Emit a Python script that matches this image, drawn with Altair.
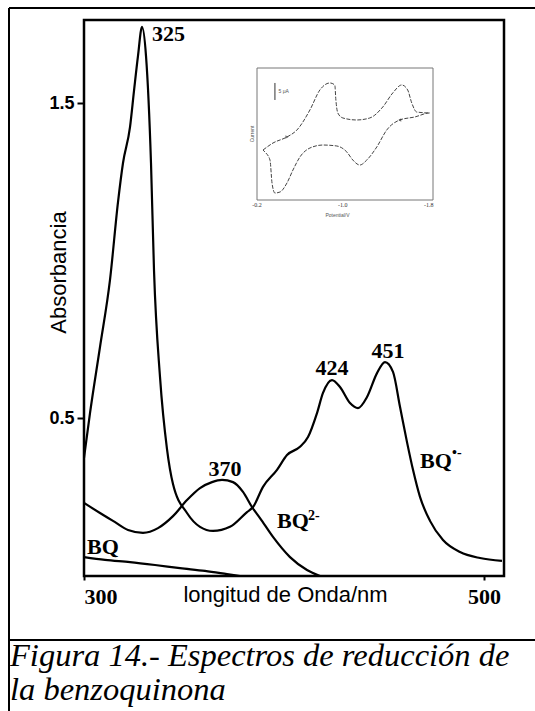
import altair as alt
import pandas as pd

# ---- main spectra (wavelength nm, absorbance) ----
rad_nm = [300, 303, 308, 313, 317, 319.5, 323, 325, 327, 329, 331, 333.5, 335, 338, 341.5, 344.5,
          351.5, 358, 364.5, 373, 381.5, 384.5, 389.5, 396.5, 401.5, 408, 412, 416.5, 419.5, 424,
          428, 433, 437, 441.5, 446.5, 450.5, 454.5, 458, 461.5, 464.5, 468, 473, 479.5, 488, 498, 509]
rad_abs = [0.375, 0.517, 0.727, 0.940, 1.187, 1.311, 1.425, 1.540, 1.651, 1.743, 1.651, 1.311, 0.971,
           0.632, 0.403, 0.292, 0.200, 0.156, 0.143, 0.156, 0.203, 0.219, 0.283, 0.337, 0.384, 0.410,
           0.441, 0.517, 0.581, 0.622, 0.600, 0.549, 0.533, 0.568, 0.644, 0.679, 0.648, 0.537, 0.425,
           0.337, 0.251, 0.175, 0.114, 0.076, 0.057, 0.048]

dian_nm = [300, 308, 314.5, 322, 329.5, 337, 344.5, 351.5, 358, 364, 369, 374.5, 379.5, 384, 388,
           394.5, 403, 411.5, 418]
dian_abs = [0.232, 0.200, 0.175, 0.146, 0.137, 0.152, 0.190, 0.241, 0.279, 0.298, 0.305, 0.298,
            0.267, 0.219, 0.184, 0.124, 0.060, 0.019, 0.0]

bq_nm = [300, 310.5, 323, 335.5, 348, 360.5, 371.5, 378]
bq_abs = [0.060, 0.051, 0.044, 0.035, 0.025, 0.016, 0.006, 0.0]

# peak labels
peak_text = ["325", "370", "424", "451"]
peak_nm = [334, 370.5, 424, 452]
peak_abs = [1.698, 0.317, 0.638, 0.692]
peak_align = ["left", "center", "center", "center"]

# species labels
sp_text = ["BQ", "BQ", "BQ"]
sp_nm = [301.5, 396.5, 468]
sp_abs = [0.070, 0.152, 0.343]
sup_text = ["2-", "•-"]
sup_nm = [412, 484]
sup_abs = [0.178, 0.378]

# ---- inset cyclic voltammogram (potential V, current uA) ----
cv_E = [-0.256, -0.349, -0.479, -0.572, -0.693, -0.786, -0.879, -0.925, -0.935, -0.953, -1.0, -1.130,
        -1.251, -1.372, -1.465, -1.549, -1.604, -1.642, -1.688, -1.809, -1.670, -1.530, -1.409, -1.316,
        -1.223, -1.158, -1.093, -1.037, -0.944, -0.814, -0.693, -0.600, -0.535, -0.479, -0.414, -0.367,
        -0.340, -0.321, -0.274, -0.256]
cv_I = [-4.71, -2.65, -0.88, 1.18, 7.06, 12.94, 15.0, 14.4, 10.0, 6.18, 4.71, 4.12, 4.71, 7.94, 12.06,
        14.41, 12.94, 9.12, 6.47, 6.18, 5.0, 4.12, 1.18, -3.82, -7.65, -9.12, -7.65, -5.29, -3.53, -3.24,
        -4.12, -6.76, -10.59, -14.41, -17.06, -17.35, -14.41, -7.65, -5.29, -4.71]
inset_ticks = [-0.2, -1.0, -1.8]
inset_tick_labels = ["-0.2", "-1.0", "-1.8"]

BLACK = "#000000"

xs = alt.Scale(domain=[300, 510], nice=False, zero=False)
ys = alt.Scale(domain=[0, 1.765], nice=False, zero=False)

def series(nm, ab):
    return pd.DataFrame({"nm": nm, "A": ab, "o": list(range(len(nm)))})

x_axis = alt.Axis(values=[300, 500], labelFont="Liberation Serif", labelFontWeight="bold",
                  labelFontSize=22, labelColor=BLACK, labelPadding=6, tickSize=4, tickWidth=2,
                  tickColor=BLACK, domain=False, grid=False, title="longitud de Onda/nm",
                  titleFont="Liberation Sans", titleFontWeight="normal", titleFontSize=22,
                  titleColor=BLACK, titleX=201, titleY=8, titleBaseline="top", titleAlign="center")
y_axis = alt.Axis(values=[0.5, 1.5], format=".1f", labelFont="Liberation Sans", labelFontWeight="bold",
                  labelFontSize=18, labelColor=BLACK, labelPadding=3, tickSize=7, tickWidth=2,
                  tickColor=BLACK, domain=False, grid=False, title="Absorbancia",
                  titleFont="Liberation Sans", titleFontWeight="normal", titleFontSize=22,
                  titleColor=BLACK, titleX=-26, titleY=252, titleAngle=270, titleAlign="center",
                  titleBaseline="middle")

base_rad = alt.Chart(series(rad_nm, rad_abs)).mark_line(color=BLACK, strokeWidth=2.2, interpolate="monotone").encode(
    x=alt.X("nm:Q", scale=xs, axis=x_axis), y=alt.Y("A:Q", scale=ys, axis=y_axis), order="o:Q")
line_dian = alt.Chart(series(dian_nm, dian_abs)).mark_line(color=BLACK, strokeWidth=2.2, interpolate="monotone").encode(
    x=alt.X("nm:Q", scale=xs), y=alt.Y("A:Q", scale=ys), order="o:Q")
line_bq = alt.Chart(series(bq_nm, bq_abs)).mark_line(color=BLACK, strokeWidth=2.2, interpolate="monotone").encode(
    x=alt.X("nm:Q", scale=xs), y=alt.Y("A:Q", scale=ys), order="o:Q")

peaks_df = pd.DataFrame({"t": peak_text, "nm": peak_nm, "A": peak_abs, "al": peak_align})
peak_layers = []
for al in ["left", "center"]:
    peak_layers.append(alt.Chart(peaks_df[peaks_df.al == al]).mark_text(
        font="Liberation Serif", fontWeight="bold", fontSize=22, color=BLACK, align=al,
        baseline="alphabetic").encode(x=alt.X("nm:Q", scale=xs), y=alt.Y("A:Q", scale=ys), text="t:N"))

sp_df = pd.DataFrame({"t": sp_text, "nm": sp_nm, "A": sp_abs})
sp_layer = alt.Chart(sp_df).mark_text(font="Liberation Serif", fontWeight="bold", fontSize=22, color=BLACK,
                                      align="left", baseline="alphabetic").encode(
    x=alt.X("nm:Q", scale=xs), y=alt.Y("A:Q", scale=ys), text="t:N")
sup_df = pd.DataFrame({"t": sup_text, "nm": sup_nm, "A": sup_abs})
sup_layer = alt.Chart(sup_df).mark_text(font="Liberation Serif", fontWeight="bold", fontSize=14, color=BLACK,
                                        align="left", baseline="alphabetic").encode(
    x=alt.X("nm:Q", scale=xs), y=alt.Y("A:Q", scale=ys), text="t:N")

# frame and caption (decorations outside the plot area)
frame_top = alt.Chart().mark_rule(color=BLACK, strokeWidth=2).encode(
    x=alt.value(-75), x2=alt.value(460), y=alt.value(-12))
frame_left = alt.Chart().mark_rule(color=BLACK, strokeWidth=2).encode(
    x=alt.value(-75), y=alt.value(-12), y2=alt.value(700))
frame_cap = alt.Chart().mark_rule(color=BLACK, strokeWidth=2).encode(
    x=alt.value(-75), x2=alt.value(460), y=alt.value(620))
cap1 = alt.Chart().mark_text(font="Liberation Serif", fontStyle="italic", fontSize=32.5, color=BLACK,
                             align="left", baseline="alphabetic").encode(
    x=alt.value(-74), y=alt.value(646), text=alt.value("Figura 14.- Espectros de reducción de"))
cap2 = alt.Chart().mark_text(font="Liberation Serif", fontStyle="italic", fontSize=32.5, color=BLACK,
                             align="left", baseline="alphabetic").encode(
    x=alt.value(-74), y=alt.value(680), text=alt.value("la benzoquinona"))

main = alt.layer(base_rad, line_dian, line_bq, *peak_layers, sp_layer, sup_layer,
                 frame_top, frame_left, frame_cap, cap1, cap2)

# ---- inset ----
ixs = alt.Scale(domain=[-0.2, -1.84], range=[173, 349], nice=False, zero=False)
iys = alt.Scale(domain=[-19.4, 19.4], range=[180, 48], nice=False, zero=False)
IX = lambda f: alt.X(f, scale=ixs, axis=None)
IY = lambda f: alt.Y(f, scale=iys, axis=None)

box = alt.Chart(pd.DataFrame({"e1": [-0.2], "e2": [-1.84], "i1": [-19.4], "i2": [19.4]})).mark_rect(
    fill="white", stroke="#777777", strokeWidth=1).encode(x=IX("e1:Q"), x2="e2:Q", y=IY("i1:Q"), y2="i2:Q")
cv = alt.Chart(pd.DataFrame({"E": cv_E, "I": cv_I, "o": list(range(len(cv_E)))})).mark_line(
    color="#444444", strokeWidth=1, strokeDash=[4, 1.5], interpolate="monotone").encode(
    x=IX("E:Q"), y=IY("I:Q"), order="o:Q")
arrows = alt.Chart(pd.DataFrame({"E": [-0.479, -1.53], "I": [-0.88, 4.12], "s": ["triangle-right", "triangle-left"]})).mark_point(
    filled=True, color="#333333", size=12).encode(x=IX("E:Q"), y=IY("I:Q"),
    shape=alt.Shape("s:N", scale=None))
ticklab = alt.Chart(pd.DataFrame({"E": inset_ticks, "I": [-20] * 3, "t": inset_tick_labels})).mark_text(
    font="Liberation Serif", fontSize=6, color="#333333", baseline="top").encode(
    x=IX("E:Q"), y=IY("I:Q"), text="t:N")
xtitle = alt.Chart(pd.DataFrame({"E": [-0.95], "I": [-23.2], "t": ["Potential/V"]})).mark_text(
    font="Liberation Sans", fontSize=5, color="#555555", baseline="top").encode(
    x=IX("E:Q"), y=IY("I:Q"), text="t:N")
ytitle = alt.Chart(pd.DataFrame({"E": [-0.15], "I": [0.0], "t": ["Current"]})).mark_text(
    font="Liberation Sans", fontSize=5, color="#555555", angle=270).encode(
    x=IX("E:Q"), y=IY("I:Q"), text="t:N")
sbar = alt.Chart(pd.DataFrame({"E": [-0.367], "a": [10.0], "b": [15.0]})).mark_rule(
    color="#333333", strokeWidth=1).encode(x=IX("E:Q"), y=IY("a:Q"), y2="b:Q")
slab = alt.Chart(pd.DataFrame({"E": [-0.40], "I": [12.5], "t": ["5 μA"]})).mark_text(
    font="Liberation Sans", fontSize=5, color="#555555", align="left").encode(
    x=IX("E:Q"), y=IY("I:Q"), text="t:N")

inset = alt.layer(box, cv, arrows, ticklab, xtitle, ytitle, sbar, slab)

chart = alt.layer(main, inset).resolve_scale(x="independent", y="independent").properties(
    width=420, height=556,
    padding={"left": 84, "top": 20, "right": 31, "bottom": 135},
    autosize=alt.AutoSizeParams(type="none"),
).configure(background="white").configure_view(stroke=BLACK, strokeWidth=2.5)

chart.save("out.html", embed_options={"renderer": "svg", "actions": False})
